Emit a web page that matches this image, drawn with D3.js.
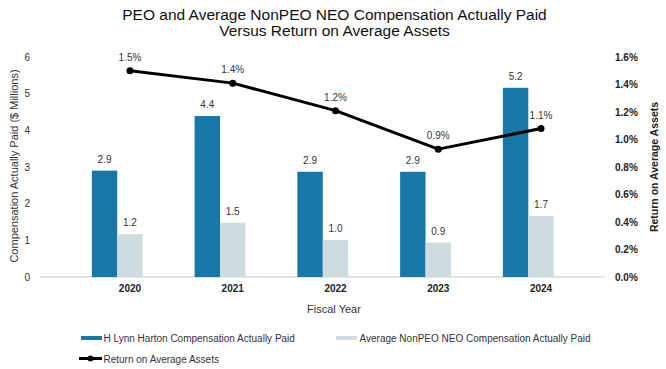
<!DOCTYPE html>
<html>
<head>
<meta charset="utf-8">
<script src="https://cdn.jsdelivr.net/npm/d3@7"></script>
<style>
  html, body { margin: 0; padding: 0; background: #fff; }
  svg { display: block; font-family: "Liberation Sans", Arial, Helvetica, sans-serif; }
</style>
</head>
<body>
<div id="chart"></div>
<script>
const years = ["2020", "2021", "2022", "2023", "2024"];
const peoCAP = [2.9, 4.39, 2.87, 2.87, 5.16];
const neoCAP = [1.17, 1.48, 1.01, 0.94, 1.66];
const roaa = [1.50, 1.41, 1.21, 0.93, 1.08];
const leftTicks = [0, 1, 2, 3, 4, 5, 6];
const rightTicks = [0, 0.2, 0.4, 0.6, 0.8, 1.0, 1.2, 1.4, 1.6];
const seriesNames = ["H Lynn Harton Compensation Actually Paid", "Average NonPEO NEO Compensation Actually Paid", "Return on Average Assets"];

const W = 666, H = 369;
const blue = "#1777a8", gray = "#cfdcdf";

const svg = d3.select("#chart").append("svg").attr("width", W).attr("height", H);

const x = d3.scaleBand().domain(years).range([78.6, 592.4]).padding(0);
const y = d3.scaleLinear().domain([0, 6]).range([277, 57]);
const y2 = d3.scaleLinear().domain([0, 1.6]).range([277, 57]);
const slot = x.bandwidth() * 0.2475;

// title
svg.append("text").attr("x", 334.5).attr("y", 19.5).attr("text-anchor", "middle")
  .attr("font-size", 15.5).attr("fill", "#111").text("PEO and Average NonPEO NEO Compensation Actually Paid");
svg.append("text").attr("x", 334.5).attr("y", 35.5).attr("text-anchor", "middle")
  .attr("font-size", 15.5).attr("fill", "#111").text("Versus Return on Average Assets");

// baseline
svg.append("line").attr("x1", 40).attr("x2", 605).attr("y1", y(0)).attr("y2", y(0))
  .attr("stroke", "#d9d9d9").attr("stroke-width", 1.5);

// left axis
const leftAxis = d3.axisLeft(y).tickValues(leftTicks).tickSize(0).tickPadding(0).tickFormat(d3.format("d"));
const gl = svg.append("g").attr("transform", "translate(30,0)").call(leftAxis);
gl.select(".domain").remove();
gl.selectAll("text").attr("font-size", 10).attr("fill", "#333").attr("font-family", "Liberation Sans, Arial, sans-serif");

// right axis
const rightAxis = d3.axisRight(y2).tickValues(rightTicks).tickSize(0).tickPadding(0).tickFormat(d => d.toFixed(1) + "%");
const gr = svg.append("g").attr("transform", "translate(615,0)").call(rightAxis);
gr.select(".domain").remove();
gr.selectAll("text").attr("font-size", 10).attr("font-weight", "bold").attr("fill", "#222").attr("font-family", "Liberation Sans, Arial, sans-serif");

// x axis labels
const bottomAxis = d3.axisBottom(x).tickSize(0).tickPadding(0);
const gb = svg.append("g").attr("transform", "translate(0,285)").call(bottomAxis);
gb.select(".domain").remove();
gb.selectAll("text").attr("font-size", 10).attr("font-weight", "bold").attr("fill", "#222").attr("font-family", "Liberation Sans, Arial, sans-serif");

// axis titles
svg.append("text").attr("transform", "translate(18,166) rotate(-90)").attr("text-anchor", "middle")
  .attr("font-size", 11).attr("fill", "#333").text("Compensation Actually Paid ($ Millions)");
svg.append("text").attr("transform", "translate(658,167) rotate(-90)").attr("text-anchor", "middle")
  .attr("font-size", 10.5).attr("font-weight", "bold").attr("fill", "#222").text("Return on Average Assets");
svg.append("text").attr("x", 334).attr("y", 313).attr("text-anchor", "middle")
  .attr("font-size", 11).attr("fill", "#333").text("Fiscal Year");

// bars
const start = d => x(d) + x.bandwidth() / 2 - slot * 1.5;
svg.selectAll(".peo").data(years).enter().append("rect")
  .attr("x", d => start(d)).attr("width", slot)
  .attr("y", (d, i) => y(peoCAP[i])).attr("height", (d, i) => y(0) - y(peoCAP[i]))
  .attr("fill", blue);
svg.selectAll(".neo").data(years).enter().append("rect")
  .attr("x", d => start(d) + slot).attr("width", slot)
  .attr("y", (d, i) => y(neoCAP[i])).attr("height", (d, i) => y(0) - y(neoCAP[i]))
  .attr("fill", gray);

svg.selectAll(".peoLab").data(years).enter().append("text")
  .attr("x", d => start(d) + slot / 2).attr("y", (d, i) => y(peoCAP[i]) - 8)
  .attr("text-anchor", "middle").attr("font-size", 10).attr("fill", "#333")
  .text((d, i) => peoCAP[i].toFixed(1));
svg.selectAll(".neoLab").data(years).enter().append("text")
  .attr("x", d => start(d) + slot * 1.5).attr("y", (d, i) => y(neoCAP[i]) - 8)
  .attr("text-anchor", "middle").attr("font-size", 10).attr("fill", "#333")
  .text((d, i) => neoCAP[i].toFixed(1));

// line
const cx = d => x(d) + x.bandwidth() / 2;
const line = d3.line().x((d, i) => cx(years[i])).y(d => y2(d));
svg.append("path").datum(roaa).attr("d", line).attr("fill", "none")
  .attr("stroke", "#000").attr("stroke-width", 3).attr("stroke-linejoin", "round");
svg.selectAll(".pt").data(roaa).enter().append("circle")
  .attr("cx", (d, i) => cx(years[i])).attr("cy", d => y2(d)).attr("r", 3.5).attr("fill", "#000");
svg.selectAll(".roaLab").data(roaa).enter().append("text")
  .attr("x", (d, i) => cx(years[i])).attr("y", d => y2(d) - 10)
  .attr("text-anchor", "middle").attr("font-size", 10).attr("fill", "#333")
  .text(d => d.toFixed(1) + "%");

// legend
const lg = svg.append("g");
lg.append("rect").attr("x", 81).attr("y", 336).attr("width", 21).attr("height", 4).attr("fill", blue);
lg.append("text").attr("x", 103.5).attr("y", 342).attr("font-size", 10).attr("fill", "#333").text(seriesNames[0]);
lg.append("rect").attr("x", 336).attr("y", 336).attr("width", 21).attr("height", 4).attr("fill", gray);
lg.append("text").attr("x", 359.5).attr("y", 342).attr("font-size", 10).attr("fill", "#333").text(seriesNames[1]);
lg.append("line").attr("x1", 79).attr("x2", 102).attr("y1", 358.5).attr("y2", 358.5).attr("stroke", "#000").attr("stroke-width", 3);
lg.append("circle").attr("cx", 90.5).attr("cy", 358.5).attr("r", 3).attr("fill", "#000");
lg.append("text").attr("x", 103.5).attr("y", 362.5).attr("font-size", 10).attr("fill", "#333").text(seriesNames[2]);
</script>
</body>
</html>
